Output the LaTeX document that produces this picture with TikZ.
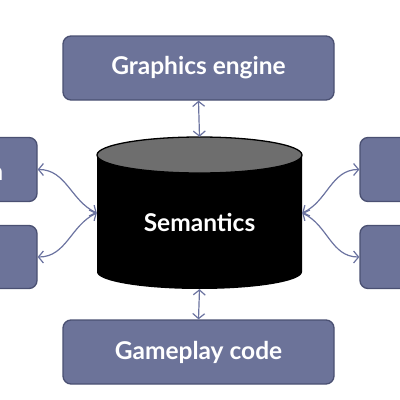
\documentclass[tikz,border=0pt]{standalone}
\usepackage{fontspec}
\setmainfont{Lato}
\usetikzlibrary{arrows.meta}
\definecolor{boxfill}{HTML}{6C7399}
\definecolor{boxline}{HTML}{4A5072}
\definecolor{arrowc}{HTML}{6B73A0}
\definecolor{capgray}{HTML}{6E6E6E}
\tikzset{
  box/.style={draw=boxline, line width=1.3pt, fill=boxfill, rounded corners=8pt,
    text=white, font=\fontsize{24.5}{28}\selectfont\bfseries, inner sep=0pt},
  link/.style={draw=arrowc, line width=1.2pt, {Straight Barb[length=5pt,width=12pt]}-{Straight Barb[length=5pt,width=12pt]}},
}
\begin{document}
\begin{tikzpicture}[x=1pt,y=-1pt]
\useasboundingbox (0,0) rectangle (400,400);
\clip (0,0) rectangle (400,400);
% boxes
\node[box, minimum width=271pt, minimum height=64pt] (gfx) at (198.5,68) {Graphics engine};
\node[box, minimum width=271pt, minimum height=64pt] (game) at (198.5,352) {Gameplay code};
\node[box, minimum width=120pt, minimum height=64pt] (lt) at (-23,169.5) {};
\node[box, minimum width=120pt, minimum height=63pt] (lb) at (-23,257) {};
\node[box, minimum width=120pt, minimum height=64pt] (rt) at (420,169.5) {};
\node[box, minimum width=120pt, minimum height=63pt] (rb) at (420,257) {};
\node[text=white, font=\fontsize{24.5}{28}\selectfont\bfseries, anchor=base east, inner sep=0pt] (ltxt) at (3.5,180) {n};
% cylinder
\fill[black] (97,155) -- (97,272) arc[start angle=180, end angle=0, x radius=102.5, y radius=17] -- (302,155) -- cycle;
\draw[black, line width=1.3pt, fill=capgray] (199.5,155) ellipse[x radius=102.5, y radius=18];
\node[minimum width=205pt, minimum height=152pt, inner sep=0pt] (sem) at (199.5,213) {};
\node[text=white, font=\fontsize{24.5}{28}\selectfont\bfseries, inner sep=0pt] (semtxt) at (199.5,222) {Semantics};
% connectors
\draw[link] (gfx.south) -- (sem.north);
\draw[link] (sem.south) -- (game.north);
\draw[link] (lt.east) to[out=0, in=155] (sem.west);
\draw[link] (lb.east) to[out=0, in=205] (sem.west);
\draw[link] (rt.west) to[out=180, in=25] (sem.east);
\draw[link] (rb.west) to[out=180, in=-25] (sem.east);
\end{tikzpicture}
\end{document}
